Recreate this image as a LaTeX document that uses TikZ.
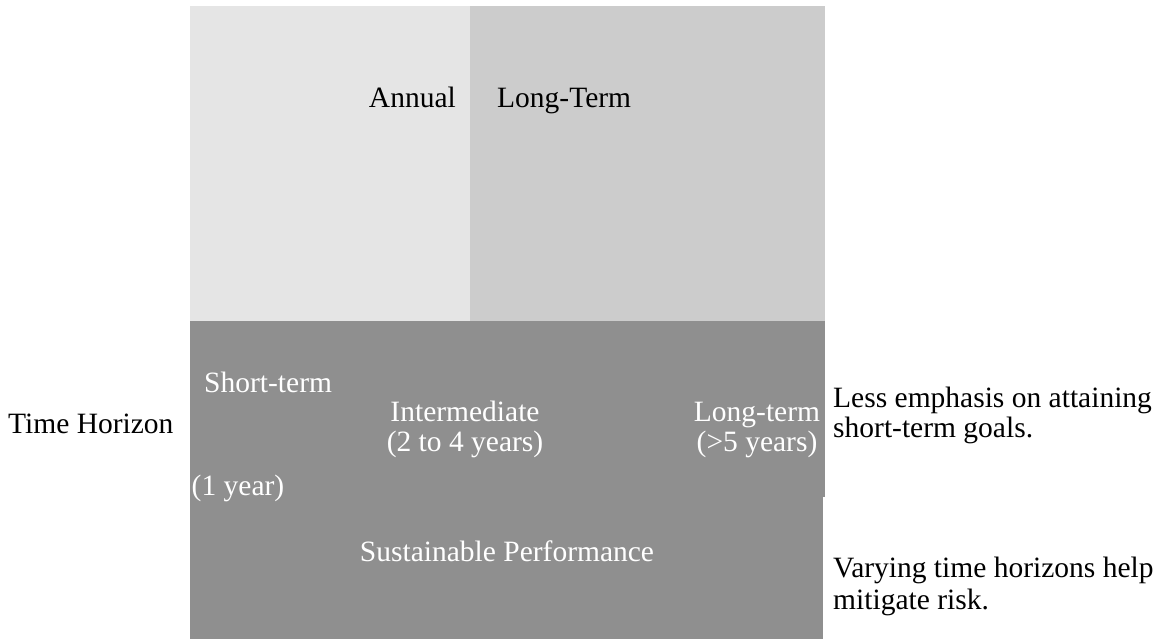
\documentclass[tikz,border=0pt]{standalone}
\usepackage{fontspec}
\setmainfont{Liberation Serif}
\definecolor{paleband}{HTML}{E5E5E5}
\definecolor{midband}{HTML}{CCCCCC}
\definecolor{darkband}{HTML}{8F8F8F}
\begin{document}
\begin{tikzpicture}[x=1pt,y=-1pt,
		txt/.style={inner sep=0pt,font=\fontsize{29.5}{30}\selectfont},
		inbox/.style={txt,text=white}]
		\useasboundingbox (0,0) rectangle (1172,639);
		% bands
		\fill[paleband] (190,6) rectangle (470,321);
		\fill[midband] (470,6) rectangle (825,321);
		\fill[darkband] (190,321) rectangle (825,497);
		\fill[darkband] (190,497) rectangle (823,639);
		
		\node (annual)[txt,anchor=base east] at (456,108) {Annual};
		\node (longterm)[txt,anchor=base west] at (497,108) {Long-Term};
		
		\node (short)[inbox,anchor=base west] at (204,392) {Short-term};
		\node (shortyr)[inbox,anchor=base] at (238,495) {(1 year)};
		\node (inter)[inbox,anchor=base] at (465,421) {Intermediate};
		\node (interyr)[inbox,anchor=base] at (465,451) {(2 to 4 years)};
		\node (long)[inbox,anchor=base] at (757,421) {Long-term};
		\node (longyr)[inbox,anchor=base] at (757,451) {(\textgreater5 years)};
		\node (sustain)[inbox,anchor=base] at (507,561) {Sustainable Performance};
		
		\node (horizon)[txt,anchor=base west] at (8,433) {Time Horizon};
		\node (less)[txt,anchor=base west] at (833,407) {Less emphasis on attaining};
		\node (lessb)[txt,anchor=base west] at (833,437) {short-term goals.};
		\node (vary)[txt,anchor=base west] at (833,577) {Varying time horizons help};
		\node (varyb)[txt,anchor=base west] at (833,609) {mitigate risk.};
	\end{tikzpicture}
\end{document}
